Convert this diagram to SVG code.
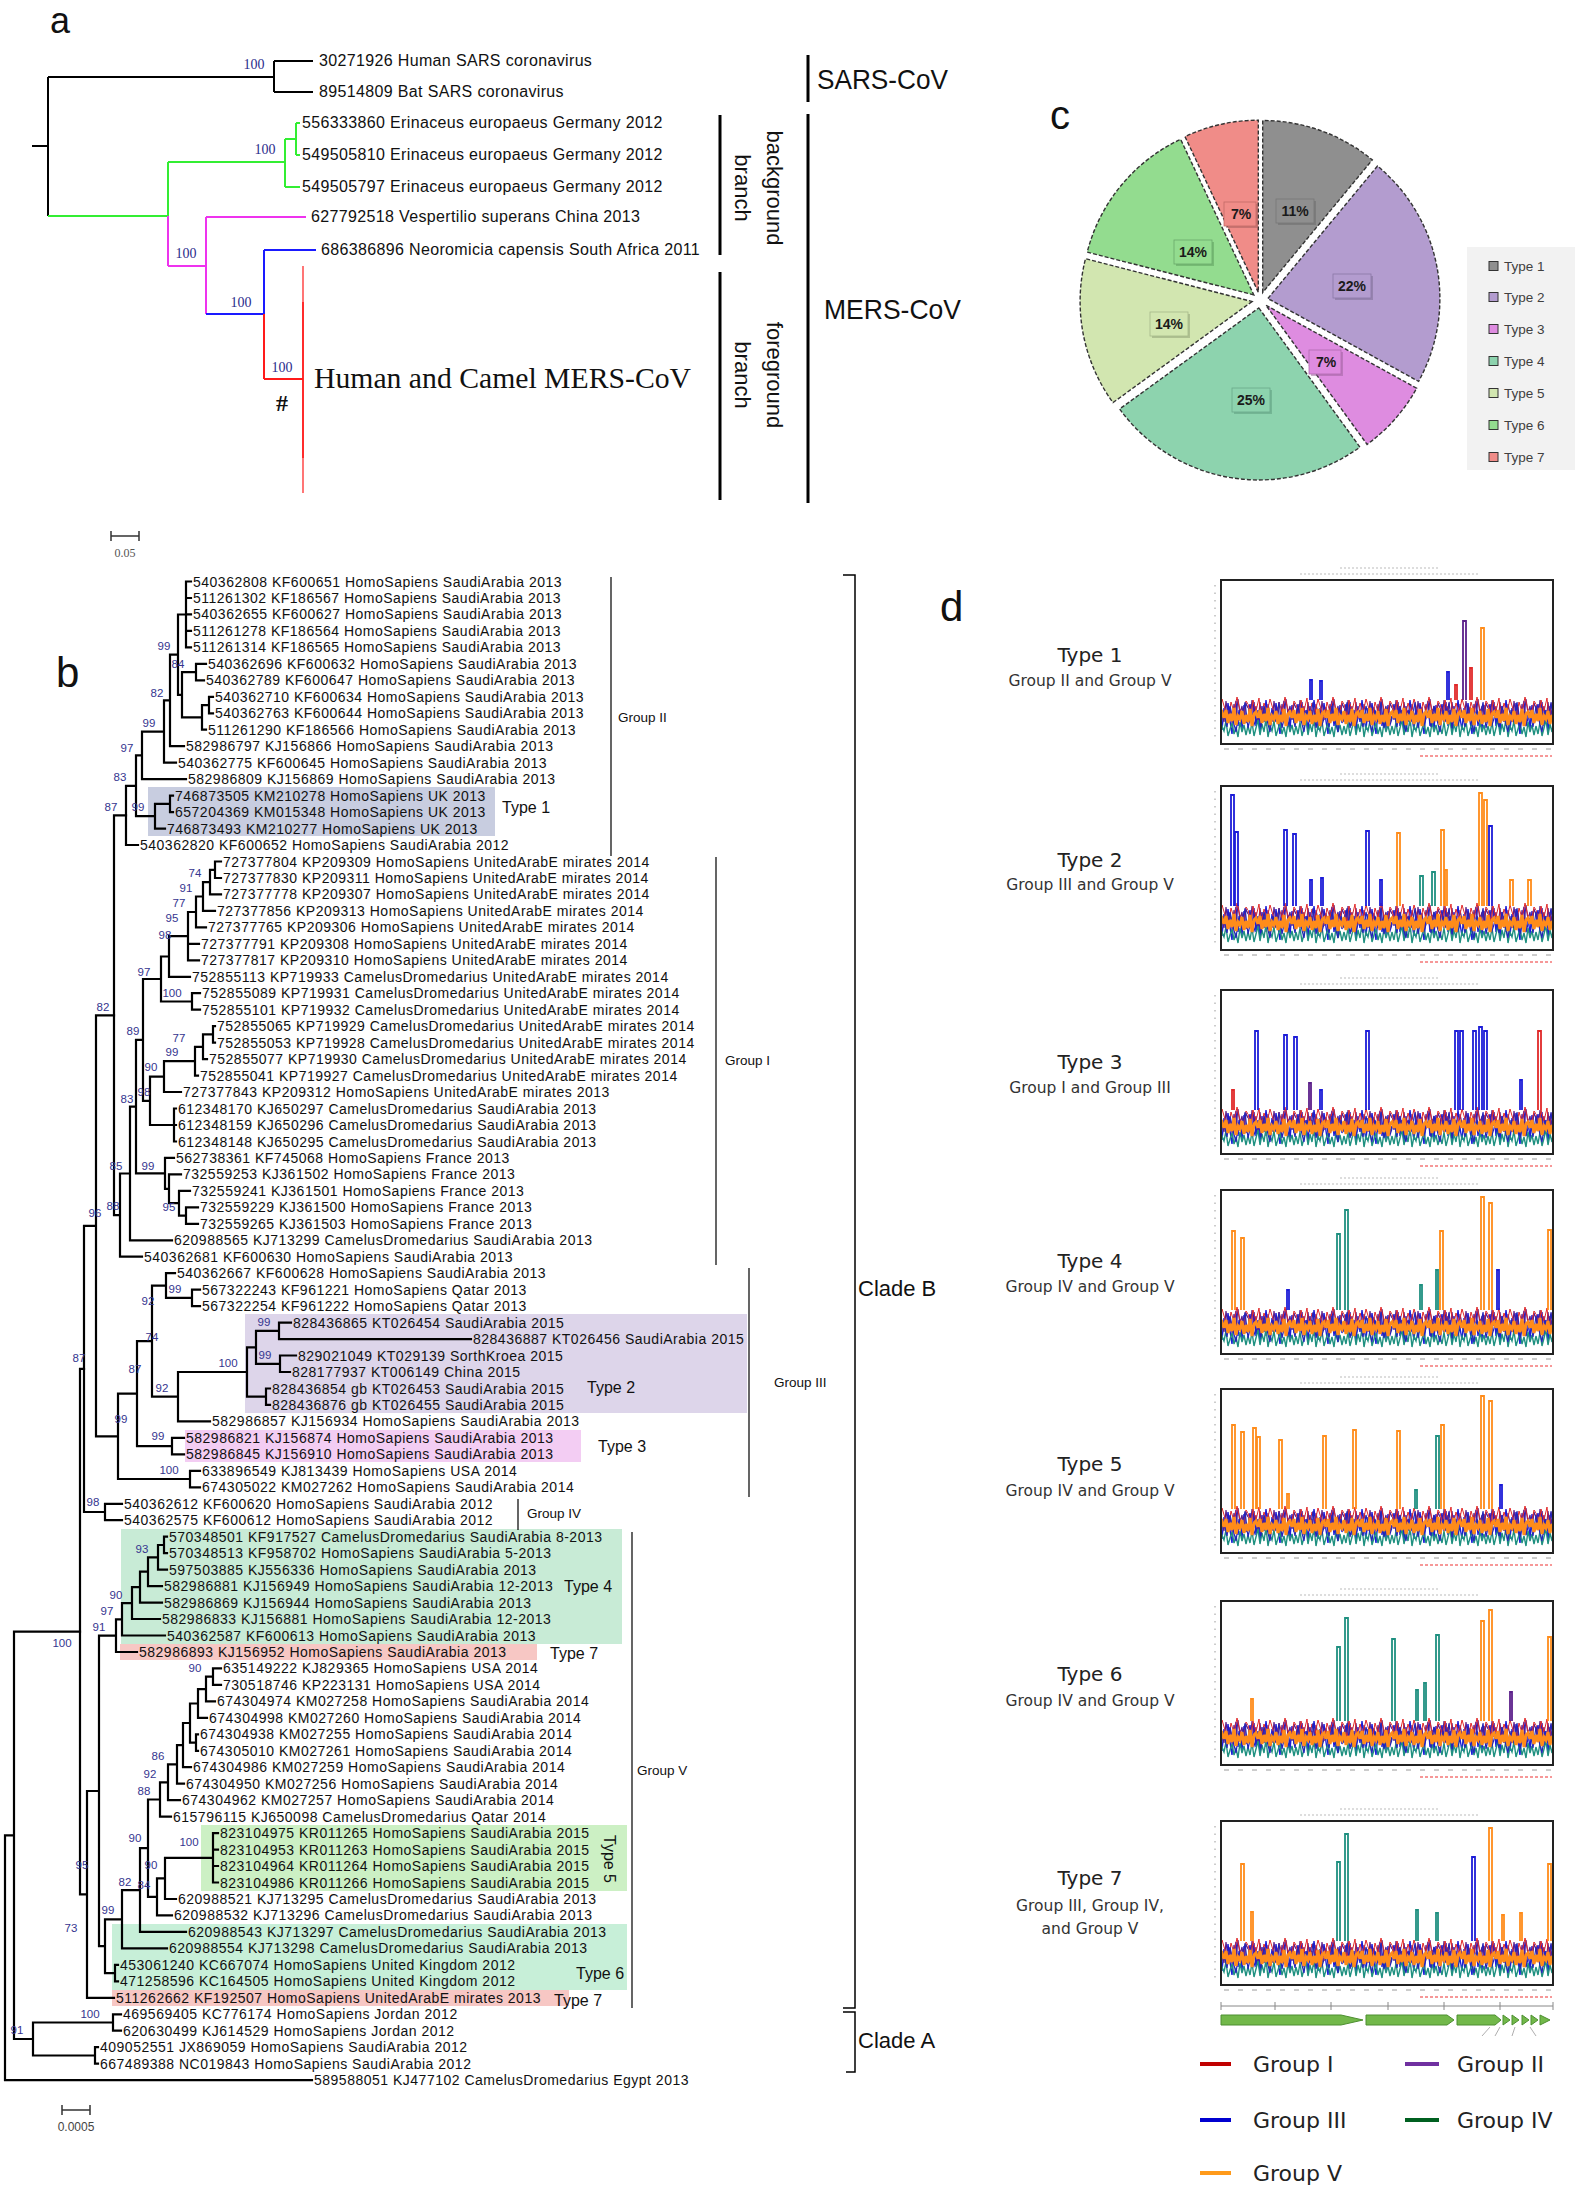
<svg xmlns="http://www.w3.org/2000/svg" xmlns:xlink="http://www.w3.org/1999/xlink" width="1575" height="2191" viewBox="0 0 1575 2191" font-family="'Liberation Sans', Arial, sans-serif">
<style>
.pl{font-size:38px;fill:#111}
.al{font-size:16px;letter-spacing:0.35px;fill:#111}
.abs{font-family:"Liberation Serif","Times New Roman",serif;font-size:14px;fill:#2b2b8c;text-anchor:middle}
.serif{font-family:"Liberation Serif","Times New Roman",serif}
.tl{font-size:14px;letter-spacing:0.5px;fill:#111}
.bs{font-size:11.5px;fill:#35358f;text-anchor:middle}
.br{fill:none;stroke:#000;stroke-width:2.2;stroke-linecap:square}
.thin{fill:none;stroke:#000;stroke-width:1.2}
.grp{font-size:13.5px;fill:#111}
.typ{font-size:16px;fill:#111}
.clade{font-size:22px;fill:#111}
.dt{font-family:"DejaVu Sans",Verdana,sans-serif;font-size:20px;fill:#222;text-anchor:middle}
.ds{font-family:"DejaVu Sans",Verdana,sans-serif;font-size:15.5px;fill:#333;text-anchor:middle}
.lg{font-family:"DejaVu Sans",Verdana,sans-serif;font-size:22px;fill:#222}
.box{fill:#fff;stroke:#222;stroke-width:2}
.sp{fill:none;stroke-width:1.8}
.ob{stroke:#ff8c1a}.bl{stroke:#1c1cd8}.tq{stroke:#1f9080}.pu{stroke:#5b1f8a}.rd{stroke:#e02828}
.ax{stroke:#9a9a9a;stroke-width:1;fill:none}
.slice{stroke:#333;stroke-width:1.4;stroke-dasharray:4 2}
.pct{font-size:14px;font-weight:bold;fill:#1a1a1a;text-anchor:middle}
.leg{font-size:13.5px;fill:#404040}
</style>
<defs>
<pattern id="noiseA" width="48" height="46" patternUnits="userSpaceOnUse">
<polyline points="0,24 2,12 4,30 6,10 8,34 10,18 12,40 14,14 16,30 18,8 20,26 22,38 24,16 26,32 28,11 30,29 32,42 34,20 36,9 38,34 40,17 42,37 44,13 46,31 48,24" fill="none" stroke="#1c1cd8" stroke-width="1.4"/>
<polyline points="0,16 2,28 4,8 6,24 8,14 10,32 12,10 14,26 16,18 18,34 20,12 22,22 24,30 26,9 28,24 30,15 32,31 34,12 36,26 38,7 40,22 42,14 44,28 46,11 48,16" fill="none" stroke="#5b1f8a" stroke-width="1.2"/>
<polyline points="0,12 3,24 5,8 8,19 11,6 13,26 16,11 19,21 22,7 25,17 28,28 31,10 34,20 37,5 40,18 43,25 46,9 48,12" fill="none" stroke="#e02828" stroke-width="1"/>
<polyline points="0,34 2,42 4,30 6,44 8,36 10,28 12,43 14,32 16,40 18,26 20,45 22,34 24,39 26,29 28,44 30,37 32,31 34,42 36,35 38,45 40,30 42,40 44,33 46,43 48,34" fill="none" stroke="#1f9080" stroke-width="1.4"/>
</pattern>
<pattern id="noiseB" width="34" height="46" patternUnits="userSpaceOnUse">
<polyline points="0,20 3,35 6,14 9,28 12,40 15,18 18,30 21,10 24,36 27,22 30,33 34,20" fill="none" stroke="#2424b8" stroke-width="1.2"/>
<polyline points="0,26 2,18 4,31 6,22 8,29 10,16 12,33 14,24 16,27 18,19 20,32 22,23 24,30 26,17 28,34 30,22 32,20 34,26" fill="none" stroke="#ff8c1a" stroke-width="3"/>
</pattern>
<g id="band"><rect x="1222" y="0" width="330" height="46" fill="url(#noiseA)"/><rect x="1222" y="0" width="330" height="46" fill="url(#noiseB)"/></g>
<g id="deco">
<path class="ax" d="M1215 5V160" stroke-dasharray="1.5 6"/>
<path class="ax" d="M1224 169H1552" stroke-dasharray="5 9"/>
<path d="M1340 -12H1440M1300 -6H1480" stroke="#bbb" stroke-width="1.2" stroke-dasharray="2 2" fill="none"/>
<path d="M1420 176H1552" stroke="#e33" stroke-width="1.2" stroke-dasharray="3 2" fill="none"/>
</g>
</defs>
<rect width="1575" height="2191" fill="#fff"/>

<!-- ========== PANEL A ========== -->
<g id="panel-a">
<text class="pl" x="50" y="33" style="font-size:36px">a</text>
<g id="a-connectors" fill="none" stroke-width="2">
<path d="M32 146H48M48 77V216M48 77H274M274 61V92M274 61H313M274 92H313" stroke="#000"/>
<path d="M48 216H168M168 162V216M168 162H285M285 139V187M285 139H296M296 123V155M296 123H300M296 155H300M285 187H300" stroke="#33ee33"/>
<path d="M168 216V266M168 266H206M206 217V314M206 217H306" stroke="#ee33ee"/>
<path d="M206 314H264M264 250V314M264 250H316" stroke="#1a1aff"/>
<path d="M264 314V379M264 379H303" stroke="#ff1a1a"/>
<path d="M303 266V493" stroke="#ff1a1a" stroke-width="1.2"/>
<path d="M303 302V458" stroke="#ff1a1a" stroke-width="1.6"/>
</g>
<text class="abs" x="254" y="69">100</text>
<text class="abs" x="265" y="154">100</text>
<text class="abs" x="186" y="258">100</text>
<text class="abs" x="241" y="307">100</text>
<text class="abs" x="282" y="372">100</text>
<g id="a-n1"><text class="al" x="319" y="66">30271926 Human SARS coronavirus</text></g>
<g id="a-n2"><text class="al" x="319" y="97">89514809 Bat SARS coronavirus</text></g>
<g id="a-n3"><text class="al" x="302" y="128">556333860 Erinaceus europaeus Germany 2012</text></g>
<g id="a-n4"><text class="al" x="302" y="160">549505810 Erinaceus europaeus Germany 2012</text></g>
<g id="a-n5"><text class="al" x="302" y="192">549505797 Erinaceus europaeus Germany 2012</text></g>
<g id="a-n6"><text class="al" x="311" y="222">627792518 Vespertilio superans China 2013</text></g>
<g id="a-n7"><text class="al" x="321" y="255">686386896 Neoromicia capensis South Africa 2011</text></g>
<g id="a-n8"><text class="serif" x="314" y="388" font-size="29" textLength="377" lengthAdjust="spacingAndGlyphs" fill="#111">Human and Camel MERS-CoV</text></g>
<text class="serif" x="282" y="411" text-anchor="middle" font-size="24" font-weight="bold" fill="#111">#</text>
<path d="M720 115V255M720 272V500M808 55V102M808 114V503" stroke="#000" stroke-width="3" fill="none"/>
<text transform="translate(767,188) rotate(90)" text-anchor="middle" font-size="22" fill="#111">background</text>
<text transform="translate(735,188) rotate(90)" text-anchor="middle" font-size="22" fill="#111">branch</text>
<text transform="translate(767,375) rotate(90)" text-anchor="middle" font-size="22" fill="#111">foreground</text>
<text transform="translate(735,375) rotate(90)" text-anchor="middle" font-size="22" fill="#111">branch</text>
<text x="817" y="89" font-size="28" textLength="131" lengthAdjust="spacingAndGlyphs" fill="#111">SARS-CoV</text>
<text x="824" y="319" font-size="28" textLength="137" lengthAdjust="spacingAndGlyphs" fill="#111">MERS-CoV</text>
<path d="M111 536H139M111 531V541M139 531V541" stroke="#333" stroke-width="1.5" fill="none"/>
<text class="serif" x="125" y="557" text-anchor="middle" font-size="12" fill="#555">0.05</text>
</g>

<!-- ========== PANEL C ========== -->
<g id="panel-c">
<text x="1050" y="129" font-size="40" fill="#111">c</text>
<g id="c-t1"><path class="slice" fill="#8f8f8f" d="M1262.7 292.5L1262.7 120.5A172 172 0 0 1 1372.3 159.9Z"/></g>
<g id="c-t2"><path class="slice" fill="#b39ccf" d="M1267.9 298.5L1377.5 166.0A172 172 0 0 1 1418.6 381.4Z"/></g>
<g id="c-t3"><path class="slice" fill="#de8ce0" d="M1266.0 305.3L1416.7 388.2A172 172 0 0 1 1367.1 444.4Z"/></g>
<g id="c-t4"><path class="slice" fill="#8dd3ae" d="M1258.8 307.9L1359.9 447.1A172 172 0 0 1 1119.6 409.0Z"/></g>
<g id="c-t5"><path class="slice" fill="#d2e6b0" d="M1252.1 301.5L1113.0 402.6A172 172 0 0 1 1085.5 258.7Z"/></g>
<g id="c-t6"><path class="slice" fill="#93dc8f" d="M1253.8 294.9L1087.2 252.1A172 172 0 0 1 1180.6 139.3Z"/></g>
<g id="c-t7"><path class="slice" fill="#f08c88" d="M1258.3 292.2L1185.0 136.6A172 172 0 0 1 1258.3 120.2Z"/></g>
<g id="c-labels">
<rect x="1278" y="201" width="38" height="24" fill="#6a6a6a" opacity="0.5"/><rect x="1276" y="199" width="38" height="24" fill="#8f8f8f" stroke="#777" stroke-width="0.8"/><text class="pct" x="1295" y="216">11%</text>
<rect x="1335" y="276" width="38" height="24" fill="#7a6a90" opacity="0.5"/><rect x="1333" y="274" width="38" height="24" fill="#b39ccf" stroke="#8a78a6" stroke-width="0.8"/><text class="pct" x="1352" y="291">22%</text>
<rect x="1311" y="352" width="32" height="24" fill="#9a609a" opacity="0.5"/><rect x="1309" y="350" width="32" height="24" fill="#de8ce0" stroke="#b06ab0" stroke-width="0.8"/><text class="pct" x="1326" y="367">7%</text>
<rect x="1234" y="390" width="38" height="24" fill="#5a9a7a" opacity="0.5"/><rect x="1232" y="388" width="38" height="24" fill="#8dd3ae" stroke="#6aa88a" stroke-width="0.8"/><text class="pct" x="1251" y="405">25%</text>
<rect x="1152" y="314" width="38" height="24" fill="#8a9a70" opacity="0.5"/><rect x="1150" y="312" width="38" height="24" fill="#d2e6b0" stroke="#a6b88a" stroke-width="0.8"/><text class="pct" x="1169" y="329">14%</text>
<rect x="1176" y="242" width="38" height="24" fill="#5a9a5a" opacity="0.5"/><rect x="1174" y="240" width="38" height="24" fill="#93dc8f" stroke="#6aa86a" stroke-width="0.8"/><text class="pct" x="1193" y="257">14%</text>
<rect x="1226" y="204" width="32" height="24" fill="#a05a5a" opacity="0.5"/><rect x="1224" y="202" width="32" height="24" fill="#f08c88" stroke="#c06a66" stroke-width="0.8"/><text class="pct" x="1241" y="219">7%</text>
</g>
<g id="c-legend">
<rect x="1467" y="247" width="108" height="223" fill="#f2f2f2"/>
<rect x="1489" y="261.5" width="9" height="9" fill="#8f8f8f" stroke="#333"/><text class="leg" x="1504" y="271">Type 1</text>
<rect x="1489" y="292.5" width="9" height="9" fill="#b39ccf" stroke="#333"/><text class="leg" x="1504" y="302">Type 2</text>
<rect x="1489" y="324.5" width="9" height="9" fill="#de8ce0" stroke="#333"/><text class="leg" x="1504" y="334">Type 3</text>
<rect x="1489" y="356.5" width="9" height="9" fill="#8dd3ae" stroke="#333"/><text class="leg" x="1504" y="366">Type 4</text>
<rect x="1489" y="388.5" width="9" height="9" fill="#d2e6b0" stroke="#333"/><text class="leg" x="1504" y="398">Type 5</text>
<rect x="1489" y="420.5" width="9" height="9" fill="#93dc8f" stroke="#333"/><text class="leg" x="1504" y="430">Type 6</text>
<rect x="1489" y="452.5" width="9" height="9" fill="#f08c88" stroke="#333"/><text class="leg" x="1504" y="462">Type 7</text>
</g>
</g>

<!-- ========== PANEL B ========== -->
<g id="panel-b">
<text class="pl" x="56" y="687" style="font-size:42px">b</text>
<g id="b-highlights">
<rect x="148" y="787" width="347" height="49" fill="#c8cde0"/>
<rect x="245" y="1314" width="502" height="99" fill="#ddd5ea"/>
<rect x="185" y="1430" width="396" height="32" fill="#f3cdf3"/>
<rect x="121" y="1529" width="501" height="115" fill="#c8ebd6"/>
<rect x="120" y="1644" width="417" height="16" fill="#f7c7c4"/>
<rect x="201" y="1825" width="426" height="66" fill="#ccf0c4"/>
<rect x="112" y="1924" width="515" height="66" fill="#c7efd8"/>
<rect x="112" y="1990" width="457" height="16" fill="#f7c7c4"/>
</g>
<g id="b-connectors">
<path class="br" d="M186 581.5V647.4M186 581.5H191M186 598H191M186 614.4H191M186 630.9H191M186 647.4H191M196 663.9V680.3M196 663.9H206M196 680.3H204M209 696.8V713.3M209 696.8H213M209 713.3H213M202 705.1V729.7M202 705.1H209M202 729.7H206M182 672.1V717.4M182 672.1H196M182 717.4H202M178 614.5V694.8M178 614.5H186M178 694.8H182M170 654.6V746.2M170 654.6H178M170 746.2H184M164 700.4V762.7M164 700.4H170M164 762.7H176M142 731.6V779.1M142 731.6H164M142 779.1H186M170 795.6V812.1M170 795.6H173M170 812.1H173M155 803.9V828.6M155 803.9H170M155 828.6H165M136 755.4V816.2M136 755.4H142M136 816.2H155M126 785.8V845M126 785.8H136M126 845H138"/>
<path class="br" d="M215 861.5V878M215 861.5H221M215 878H221M210 869.8V894.4M210 869.8H215M210 894.4H221M203 882.1V910.9M203 882.1H210M203 910.9H215M196 896.5V927.4M196 896.5H203M196 927.4H206M188 912V960.3M188 912H196M188 943.8H199M188 960.3H199M169 936.2V976.8M169 936.2H188M169 976.8H190M192 993.2V1009.7M192 993.2H200M192 1009.7H200M161 956.5V1001.5M161 956.5H169M161 1001.5H192M213 1026.2V1042.6M213 1026.2H215M213 1042.6H215M203 1034.4V1059.1M203 1034.4H213M203 1059.1H207M195 1046.8V1075.6M195 1046.8H203M195 1075.6H198M164 1061.2V1092M164 1061.2H195M164 1092H181M174 1108.5V1141.5M174 1108.5H176M174 1125H176M174 1141.5H176M150 1076.6V1125M150 1076.6H164M150 1125H174M143 979V1100.8M143 979H161M143 1100.8H150M186 1207.3V1223.8M186 1207.3H198M186 1223.8H198M179 1190.9V1215.6M179 1190.9H190M179 1215.6H186M169 1174.4V1203.2M169 1174.4H181M169 1203.2H179M165 1157.9V1188.8M165 1157.9H174M165 1188.8H169M136 1039.9V1173.4M136 1039.9H143M136 1173.4H165M130 1106.6V1240.3M130 1106.6H136M130 1240.3H172M120 1173.5V1256.7M120 1173.5H130M120 1256.7H142M114 815.4V1215.1M114 815.4H126M114 1215.1H120"/>
<path class="br" d="M192 1289.7V1306.1M192 1289.7H200M192 1306.1H200M166 1273.2V1297.9M166 1273.2H175M166 1297.9H192M279 1322.6V1339.1M279 1322.6H291M279 1339.1H471M280 1355.5V1372M280 1355.5H296M280 1372H290M256 1330.9V1363.8M256 1330.9H279M256 1363.8H280M266 1388.5V1404.9M266 1388.5H270M266 1404.9H270M247 1347.4V1396.7M247 1347.4H256M247 1396.7H266M178 1372V1421.4M178 1372H247M178 1421.4H210M152 1285.6V1396.7M152 1285.6H166M152 1396.7H178M172 1437.9V1454.3M172 1437.9H184M172 1454.3H184M137 1341.2V1446.1M137 1341.2H152M137 1446.1H172M190 1470.8V1487.3M190 1470.8H200M190 1487.3H200M118 1393.7V1479M118 1393.7H137M118 1479H190M96 1015.3V1436.4M96 1015.3H114M96 1436.4H118M105 1503.8V1520.2M105 1503.8H122M105 1520.2H122M84 1225.8V1512M84 1225.8H96M84 1512H105"/>
<path class="br" d="M164 1536.7V1553.2M164 1536.7H167M164 1553.2H167M158 1545V1569.6M158 1545H164M158 1569.6H167M148 1557.3V1586.1M148 1557.3H158M148 1586.1H162M140 1571.7V1602.6M140 1571.7H148M140 1602.6H162M132 1587.2V1619M132 1587.2H140M132 1619H160M122 1603.1V1635.5M122 1603.1H132M122 1635.5H165M116 1619.3V1652M116 1619.3H122M116 1652H137M213 1668.4V1684.9M213 1668.4H221M213 1684.9H221M206 1676.7V1701.4M206 1676.7H213M206 1701.4H215M198 1689.1V1717.8M198 1689.1H206M198 1717.8H207M196 1734.3V1750.8M196 1734.3H198M196 1750.8H198M190 1703.5V1742.6M190 1703.5H198M190 1742.6H196M183 1723V1767.2M183 1723H190M183 1767.2H191M177 1745.1V1783.7M177 1745.1H183M177 1783.7H184M168 1764.4V1800.2M168 1764.4H177M168 1800.2H180M160 1782.3V1816.6M160 1782.3H168M160 1816.6H171M213 1833.1V1882.5M213 1833.1H218M213 1849.6H218M213 1866H218M213 1882.5H218M165 1857.8V1899M165 1857.8H213M165 1899H176M157 1878.4V1915.4M157 1878.4H165M157 1915.4H172M148 1799.5V1896.9M148 1799.5H160M148 1896.9H157M140 1848.2V1931.9M140 1848.2H148M140 1931.9H186M122 1890.1V1948.4M122 1890.1H140M122 1948.4H167M115 1964.8V1981.3M115 1964.8H118M115 1981.3H118M105 1919.3V1973.1M105 1919.3H122M105 1973.1H115M99 1635.7V1946.2M99 1635.7H116M99 1946.2H105M87 1791V1997.8M87 1791H99M87 1997.8H114M80 1368.9V1894.4M80 1368.9H84M80 1894.4H87"/>
<path class="br" d="M113 2014.3V2030.7M113 2014.3H121M113 2030.7H121M95 2047.2V2063.7M95 2047.2H98M95 2063.7H98M33 2022.5V2055.5M33 2022.5H113M33 2055.5H95M14 1631.7V2039M14 1631.7H80M14 2039H33M5 1835.4V2080.1M5 1835.4H14M5 2080.1H312"/>
</g>
<g id="b-bootstrap">
<text class="bs" x="164" y="650">99</text><text class="bs" x="178" y="668">84</text><text class="bs" x="157" y="697">82</text><text class="bs" x="149" y="727">99</text><text class="bs" x="127" y="752">97</text><text class="bs" x="120" y="781">83</text><text class="bs" x="111" y="811">87</text><text class="bs" x="138" y="811">99</text>
<text class="bs" x="195" y="877">74</text><text class="bs" x="186" y="892">91</text><text class="bs" x="179" y="907">77</text><text class="bs" x="172" y="922">95</text><text class="bs" x="165" y="939">98</text><text class="bs" x="144" y="976">97</text><text class="bs" x="172" y="997">100</text><text class="bs" x="103" y="1011">82</text><text class="bs" x="133" y="1035">89</text><text class="bs" x="179" y="1042">77</text><text class="bs" x="172" y="1056">99</text><text class="bs" x="151" y="1071">90</text>
<text class="bs" x="127" y="1103">83</text><text class="bs" x="144" y="1096">98</text><text class="bs" x="116" y="1170">85</text><text class="bs" x="148" y="1170">99</text><text class="bs" x="169" y="1211">95</text><text class="bs" x="95" y="1217">96</text><text class="bs" x="113" y="1210">88</text><text class="bs" x="175" y="1293">99</text><text class="bs" x="148" y="1305">92</text><text class="bs" x="264" y="1326">99</text><text class="bs" x="152" y="1341">74</text>
<text class="bs" x="79" y="1362">87</text><text class="bs" x="228" y="1367">100</text><text class="bs" x="265" y="1359">99</text><text class="bs" x="135" y="1373">87</text><text class="bs" x="162" y="1392">92</text><text class="bs" x="121" y="1423">99</text><text class="bs" x="158" y="1440">99</text><text class="bs" x="169" y="1474">100</text><text class="bs" x="93" y="1506">98</text><text class="bs" x="142" y="1553">93</text><text class="bs" x="116" y="1599">90</text>
<text class="bs" x="107" y="1615">97</text><text class="bs" x="99" y="1631">91</text><text class="bs" x="62" y="1647">100</text><text class="bs" x="195" y="1672">90</text><text class="bs" x="158" y="1760">86</text><text class="bs" x="150" y="1778">92</text><text class="bs" x="144" y="1795">88</text><text class="bs" x="135" y="1842">90</text><text class="bs" x="189" y="1846">100</text><text class="bs" x="82" y="1869">95</text><text class="bs" x="151" y="1869">90</text>
<text class="bs" x="125" y="1886">82</text><text class="bs" x="144" y="1889">84</text><text class="bs" x="108" y="1914">99</text><text class="bs" x="71" y="1932">73</text><text class="bs" x="90" y="2018">100</text><text class="bs" x="17" y="2034">91</text>
</g>
<g id="b-tips">
<g id="b-t1"><text class="tl" x="193" y="586.5">540362808 KF600651 HomoSapiens SaudiArabia 2013</text></g>
<g id="b-t2"><text class="tl" x="193" y="603">511261302 KF186567 HomoSapiens SaudiArabia 2013</text></g>
<g id="b-t3"><text class="tl" x="193" y="619.4">540362655 KF600627 HomoSapiens SaudiArabia 2013</text></g>
<g id="b-t4"><text class="tl" x="193" y="635.9">511261278 KF186564 HomoSapiens SaudiArabia 2013</text></g>
<g id="b-t5"><text class="tl" x="193" y="652.4">511261314 KF186565 HomoSapiens SaudiArabia 2013</text></g>
<g id="b-t6"><text class="tl" x="208" y="668.9">540362696 KF600632 HomoSapiens SaudiArabia 2013</text></g>
<g id="b-t7"><text class="tl" x="206" y="685.3">540362789 KF600647 HomoSapiens SaudiArabia 2013</text></g>
<g id="b-t8"><text class="tl" x="215" y="701.8">540362710 KF600634 HomoSapiens SaudiArabia 2013</text></g>
<g id="b-t9"><text class="tl" x="215" y="718.3">540362763 KF600644 HomoSapiens SaudiArabia 2013</text></g>
<g id="b-t10"><text class="tl" x="208" y="734.7">511261290 KF186566 HomoSapiens SaudiArabia 2013</text></g>
<g id="b-t11"><text class="tl" x="186" y="751.2">582986797 KJ156866 HomoSapiens SaudiArabia 2013</text></g>
<g id="b-t12"><text class="tl" x="178" y="767.7">540362775 KF600645 HomoSapiens SaudiArabia 2013</text></g>
<g id="b-t13"><text class="tl" x="188" y="784.1">582986809 KJ156869 HomoSapiens SaudiArabia 2013</text></g>
<g id="b-t14"><text class="tl" x="175" y="800.6">746873505 KM210278 HomoSapiens UK 2013</text></g>
<g id="b-t15"><text class="tl" x="175" y="817.1">657204369 KM015348 HomoSapiens UK 2013</text></g>
<g id="b-t16"><text class="tl" x="167" y="833.6">746873493 KM210277 HomoSapiens UK 2013</text></g>
<g id="b-t17"><text class="tl" x="140" y="850">540362820 KF600652 HomoSapiens SaudiArabia 2012</text></g>
<g id="b-t18"><text class="tl" x="223" y="866.5">727377804 KP209309 HomoSapiens UnitedArabE mirates 2014</text></g>
<g id="b-t19"><text class="tl" x="223" y="883">727377830 KP209311 HomoSapiens UnitedArabE mirates 2014</text></g>
<g id="b-t20"><text class="tl" x="223" y="899.4">727377778 KP209307 HomoSapiens UnitedArabE mirates 2014</text></g>
<g id="b-t21"><text class="tl" x="217" y="915.9">727377856 KP209313 HomoSapiens UnitedArabE mirates 2014</text></g>
<g id="b-t22"><text class="tl" x="208" y="932.4">727377765 KP209306 HomoSapiens UnitedArabE mirates 2014</text></g>
<g id="b-t23"><text class="tl" x="201" y="948.8">727377791 KP209308 HomoSapiens UnitedArabE mirates 2014</text></g>
<g id="b-t24"><text class="tl" x="201" y="965.3">727377817 KP209310 HomoSapiens UnitedArabE mirates 2014</text></g>
<g id="b-t25"><text class="tl" x="192" y="981.8">752855113 KP719933 CamelusDromedarius UnitedArabE mirates 2014</text></g>
<g id="b-t26"><text class="tl" x="202" y="998.2">752855089 KP719931 CamelusDromedarius UnitedArabE mirates 2014</text></g>
<g id="b-t27"><text class="tl" x="202" y="1014.7">752855101 KP719932 CamelusDromedarius UnitedArabE mirates 2014</text></g>
<g id="b-t28"><text class="tl" x="217" y="1031.2">752855065 KP719929 CamelusDromedarius UnitedArabE mirates 2014</text></g>
<g id="b-t29"><text class="tl" x="217" y="1047.6">752855053 KP719928 CamelusDromedarius UnitedArabE mirates 2014</text></g>
<g id="b-t30"><text class="tl" x="209" y="1064.1">752855077 KP719930 CamelusDromedarius UnitedArabE mirates 2014</text></g>
<g id="b-t31"><text class="tl" x="200" y="1080.6">752855041 KP719927 CamelusDromedarius UnitedArabE mirates 2014</text></g>
<g id="b-t32"><text class="tl" x="183" y="1097">727377843 KP209312 HomoSapiens UnitedArabE mirates 2013</text></g>
<g id="b-t33"><text class="tl" x="178" y="1113.5">612348170 KJ650297 CamelusDromedarius SaudiArabia 2013</text></g>
<g id="b-t34"><text class="tl" x="178" y="1130">612348159 KJ650296 CamelusDromedarius SaudiArabia 2013</text></g>
<g id="b-t35"><text class="tl" x="178" y="1146.5">612348148 KJ650295 CamelusDromedarius SaudiArabia 2013</text></g>
<g id="b-t36"><text class="tl" x="176" y="1162.9">562738361 KF745068 HomoSapiens France 2013</text></g>
<g id="b-t37"><text class="tl" x="183" y="1179.4">732559253 KJ361502 HomoSapiens France 2013</text></g>
<g id="b-t38"><text class="tl" x="192" y="1195.9">732559241 KJ361501 HomoSapiens France 2013</text></g>
<g id="b-t39"><text class="tl" x="200" y="1212.3">732559229 KJ361500 HomoSapiens France 2013</text></g>
<g id="b-t40"><text class="tl" x="200" y="1228.8">732559265 KJ361503 HomoSapiens France 2013</text></g>
<g id="b-t41"><text class="tl" x="174" y="1245.3">620988565 KJ713299 CamelusDromedarius SaudiArabia 2013</text></g>
<g id="b-t42"><text class="tl" x="144" y="1261.7">540362681 KF600630 HomoSapiens SaudiArabia 2013</text></g>
<g id="b-t43"><text class="tl" x="177" y="1278.2">540362667 KF600628 HomoSapiens SaudiArabia 2013</text></g>
<g id="b-t44"><text class="tl" x="202" y="1294.7">567322243 KF961221 HomoSapiens Qatar 2013</text></g>
<g id="b-t45"><text class="tl" x="202" y="1311.1">567322254 KF961222 HomoSapiens Qatar 2013</text></g>
<g id="b-t46"><text class="tl" x="293" y="1327.6">828436865 KT026454 SaudiArabia 2015</text></g>
<g id="b-t47"><text class="tl" x="473" y="1344.1">828436887 KT026456 SaudiArabia 2015</text></g>
<g id="b-t48"><text class="tl" x="298" y="1360.5">829021049 KT029139 SorthKroea 2015</text></g>
<g id="b-t49"><text class="tl" x="292" y="1377">828177937 KT006149 China 2015</text></g>
<g id="b-t50"><text class="tl" x="272" y="1393.5">828436854 gb KT026453 SaudiArabia 2015</text></g>
<g id="b-t51"><text class="tl" x="272" y="1409.9">828436876 gb KT026455 SaudiArabia 2015</text></g>
<g id="b-t52"><text class="tl" x="212" y="1426.4">582986857 KJ156934 HomoSapiens SaudiArabia 2013</text></g>
<g id="b-t53"><text class="tl" x="186" y="1442.9" fill="#5e2a5e">582986821 KJ156874 HomoSapiens SaudiArabia 2013</text></g>
<g id="b-t54"><text class="tl" x="186" y="1459.3" fill="#5e2a5e">582986845 KJ156910 HomoSapiens SaudiArabia 2013</text></g>
<g id="b-t55"><text class="tl" x="202" y="1475.8">633896549 KJ813439 HomoSapiens USA 2014</text></g>
<g id="b-t56"><text class="tl" x="202" y="1492.3">674305022 KM027262 HomoSapiens SaudiArabia 2014</text></g>
<g id="b-t57"><text class="tl" x="124" y="1508.8">540362612 KF600620 HomoSapiens SaudiArabia 2012</text></g>
<g id="b-t58"><text class="tl" x="124" y="1525.2">540362575 KF600612 HomoSapiens SaudiArabia 2012</text></g>
<g id="b-t59"><text class="tl" x="169" y="1541.7">570348501 KF917527 CamelusDromedarius SaudiArabia 8-2013</text></g>
<g id="b-t60"><text class="tl" x="169" y="1558.2">570348513 KF958702 HomoSapiens SaudiArabia 5-2013</text></g>
<g id="b-t61"><text class="tl" x="169" y="1574.6">597503885 KJ556336 HomoSapiens SaudiArabia 2013</text></g>
<g id="b-t62"><text class="tl" x="164" y="1591.1">582986881 KJ156949 HomoSapiens SaudiArabia 12-2013</text></g>
<g id="b-t63"><text class="tl" x="164" y="1607.6">582986869 KJ156944 HomoSapiens SaudiArabia 2013</text></g>
<g id="b-t64"><text class="tl" x="162" y="1624">582986833 KJ156881 HomoSapiens SaudiArabia 12-2013</text></g>
<g id="b-t65"><text class="tl" x="167" y="1640.5">540362587 KF600613 HomoSapiens SaudiArabia 2013</text></g>
<g id="b-t66"><text class="tl" x="139" y="1657" fill="#7a1d1d">582986893 KJ156952 HomoSapiens SaudiArabia 2013</text></g>
<g id="b-t67"><text class="tl" x="223" y="1673.4">635149222 KJ829365 HomoSapiens USA 2014</text></g>
<g id="b-t68"><text class="tl" x="223" y="1689.9">730518746 KP223131 HomoSapiens USA 2014</text></g>
<g id="b-t69"><text class="tl" x="217" y="1706.4">674304974 KM027258 HomoSapiens SaudiArabia 2014</text></g>
<g id="b-t70"><text class="tl" x="209" y="1722.8">674304998 KM027260 HomoSapiens SaudiArabia 2014</text></g>
<g id="b-t71"><text class="tl" x="200" y="1739.3">674304938 KM027255 HomoSapiens SaudiArabia 2014</text></g>
<g id="b-t72"><text class="tl" x="200" y="1755.8">674305010 KM027261 HomoSapiens SaudiArabia 2014</text></g>
<g id="b-t73"><text class="tl" x="193" y="1772.2">674304986 KM027259 HomoSapiens SaudiArabia 2014</text></g>
<g id="b-t74"><text class="tl" x="186" y="1788.7">674304950 KM027256 HomoSapiens SaudiArabia 2014</text></g>
<g id="b-t75"><text class="tl" x="182" y="1805.2">674304962 KM027257 HomoSapiens SaudiArabia 2014</text></g>
<g id="b-t76"><text class="tl" x="173" y="1821.6">615796115 KJ650098 CamelusDromedarius Qatar 2014</text></g>
<g id="b-t77"><text class="tl" x="220" y="1838.1">823104975 KR011265 HomoSapiens SaudiArabia 2015</text></g>
<g id="b-t78"><text class="tl" x="220" y="1854.6">823104953 KR011263 HomoSapiens SaudiArabia 2015</text></g>
<g id="b-t79"><text class="tl" x="220" y="1871">823104964 KR011264 HomoSapiens SaudiArabia 2015</text></g>
<g id="b-t80"><text class="tl" x="220" y="1887.5">823104986 KR011266 HomoSapiens SaudiArabia 2015</text></g>
<g id="b-t81"><text class="tl" x="178" y="1904">620988521 KJ713295 CamelusDromedarius SaudiArabia 2013</text></g>
<g id="b-t82"><text class="tl" x="174" y="1920.4">620988532 KJ713296 CamelusDromedarius SaudiArabia 2013</text></g>
<g id="b-t83"><text class="tl" x="188" y="1936.9">620988543 KJ713297 CamelusDromedarius SaudiArabia 2013</text></g>
<g id="b-t84"><text class="tl" x="169" y="1953.4">620988554 KJ713298 CamelusDromedarius SaudiArabia 2013</text></g>
<g id="b-t85"><text class="tl" x="120" y="1969.8">453061240 KC667074 HomoSapiens United Kingdom 2012</text></g>
<g id="b-t86"><text class="tl" x="120" y="1986.3">471258596 KC164505 HomoSapiens United Kingdom 2012</text></g>
<g id="b-t87"><text class="tl" x="116" y="2002.8" fill="#7a1d1d">511262662 KF192507 HomoSapiens UnitedArabE mirates 2013</text></g>
<g id="b-t88"><text class="tl" x="123" y="2019.3">469569405 KC776174 HomoSapiens Jordan 2012</text></g>
<g id="b-t89"><text class="tl" x="123" y="2035.7">620630499 KJ614529 HomoSapiens Jordan 2012</text></g>
<g id="b-t90"><text class="tl" x="100" y="2052.2">409052551 JX869059 HomoSapiens SaudiArabia 2012</text></g>
<g id="b-t91"><text class="tl" x="100" y="2068.7">667489388 NC019843 HomoSapiens SaudiArabia 2012</text></g>
<g id="b-t92"><text class="tl" x="314" y="2085.1">589588051 KJ477102 CamelusDromedarius Egypt 2013</text></g>
</g>
<g id="b-types">
<text class="typ" x="502" y="813">Type 1</text>
<text class="typ" x="587" y="1393">Type 2</text>
<text class="typ" x="598" y="1452">Type 3</text>
<text class="typ" x="564" y="1592">Type 4</text>
<text class="typ" x="550" y="1659">Type 7</text>
<text class="typ" transform="translate(604,1859) rotate(90)" text-anchor="middle">Type 5</text>
<text class="typ" x="576" y="1979">Type 6</text>
<text class="typ" x="554" y="2006">Type 7</text>
</g>
<g id="b-groups">
<path class="thin" d="M611 577V856M716 857V1265M749 1268V1497M518 1499V1530M632 1532V2008"/>
<text class="grp" x="618" y="722">Group II</text>
<text class="grp" x="725" y="1065">Group I</text>
<text class="grp" x="774" y="1387">Group III</text>
<text class="grp" x="527" y="1518">Group IV</text>
<text class="grp" x="637" y="1775">Group V</text>
<path d="M843 575H855V2008H843M843 2012H855V2072H846" fill="none" stroke="#000" stroke-width="1.5"/>
<text class="clade" x="858" y="1296">Clade B</text>
<text class="clade" x="858" y="2048">Clade A</text>
</g>
<path d="M62 2110H90M62 2105V2115M90 2105V2115" stroke="#333" stroke-width="1.5" fill="none"/>
<text x="76" y="2131" text-anchor="middle" font-size="12" fill="#444">0.0005</text>
</g>

<!-- ========== PANEL D ========== -->
<g id="panel-d">
<text class="pl" x="940" y="621" style="font-size:42px">d</text>
<g id="d-type1">
<text class="dt" x="1090" y="662">Type 1</text><text class="ds" x="1090" y="686">Group II and Group V</text>
<rect class="box" x="1221" y="580" width="332" height="164"/>
<use href="#deco" y="580"/><use href="#band" y="692"/>
<path class="sp pu" d="M1463 700V621H1466V700" stroke-width="2.4"/>
<path class="sp ob" d="M1481 700V628H1484V700" stroke-width="2.4"/>
<path class="sp bl" d="M1310 700V680H1312V700M1320 700V681H1322V700M1447 700V672H1449V700"/>
<path class="sp rd" d="M1470 700V668H1472V700M1455 700V685H1457V700"/>
</g>
<g id="d-type2">
<text class="dt" x="1090" y="867">Type 2</text><text class="ds" x="1090" y="890">Group III and Group V</text>
<rect class="box" x="1221" y="786" width="332" height="164"/>
<use href="#deco" y="786"/><use href="#band" y="898"/>
<path class="sp bl" stroke-width="2.4" d="M1231 906V795H1234V906M1235 906V832H1238V906M1284 906V830H1287V906M1293 906V834H1296V906M1366 906V831H1369V906M1489 906V826H1492V906M1310 906V880H1312V906M1321 906V878H1323V906M1380 906V880H1382V906"/>
<path class="sp ob" stroke-width="2.4" d="M1397 906V833H1400V906M1441 906V830H1444V906M1479 906V793H1482V906M1484 906V800H1487V906M1510 906V880H1513V906M1528 906V880H1531V906M1445 906V870H1447V906"/>
<path class="sp tq" d="M1420 906V876H1423V906M1432 906V872H1435V906"/>
</g>
<g id="d-type3">
<text class="dt" x="1090" y="1069">Type 3</text><text class="ds" x="1090" y="1093">Group I and Group III</text>
<rect class="box" x="1221" y="990" width="332" height="164"/>
<use href="#deco" y="990"/><use href="#band" y="1102"/>
<path class="sp bl" stroke-width="2.4" d="M1255 1110V1031H1258V1110M1284 1110V1035H1287V1110M1294 1110V1037H1297V1110M1366 1110V1031H1369V1110M1455 1110V1031H1458V1110M1460 1110V1031H1463V1110M1473 1110V1031H1476V1110M1479 1110V1027H1482V1110M1484 1110V1031H1487V1110M1320 1110V1090H1322V1110M1520 1110V1080H1522V1110"/>
<path class="sp rd" stroke-width="2.4" d="M1538 1110V1031H1541V1110M1232 1110V1090H1234V1110"/>
<path class="sp pu" d="M1309 1110V1083H1311V1110"/>
</g>
<g id="d-type4">
<text class="dt" x="1090" y="1268">Type 4</text><text class="ds" x="1090" y="1292">Group IV and Group V</text>
<rect class="box" x="1221" y="1190" width="332" height="164"/>
<use href="#deco" y="1190"/><use href="#band" y="1302"/>
<path class="sp ob" stroke-width="2.4" d="M1232 1310V1231H1235V1310M1241 1310V1238H1244V1310M1440 1310V1231H1443V1310M1481 1310V1197H1484V1310M1489 1310V1203H1492V1310M1548 1310V1230H1551V1310"/>
<path class="sp tq" stroke-width="2.4" d="M1337 1310V1234H1340V1310M1345 1310V1210H1348V1310M1436 1310V1270H1438V1310M1420 1310V1285H1422V1310"/>
<path class="sp bl" d="M1287 1310V1290H1289V1310M1497 1310V1270H1499V1310"/>
</g>
<g id="d-type5">
<text class="dt" x="1090" y="1471">Type 5</text><text class="ds" x="1090" y="1496">Group IV and Group V</text>
<rect class="box" x="1221" y="1389" width="332" height="164"/>
<use href="#deco" y="1389"/><use href="#band" y="1501"/>
<path class="sp ob" stroke-width="2.4" d="M1232 1509V1425H1235V1509M1241 1509V1432H1244V1509M1253 1509V1428H1256V1509M1257 1509V1437H1260V1509M1279 1509V1440H1282V1509M1323 1509V1436H1326V1509M1353 1509V1430H1356V1509M1397 1509V1431H1400V1509M1441 1509V1425H1444V1509M1481 1509V1396H1484V1509M1489 1509V1401H1492V1509M1287 1509V1494H1289V1509"/>
<path class="sp tq" stroke-width="2.4" d="M1436 1509V1436H1439V1509M1415 1509V1490H1417V1509"/>
<path class="sp bl" d="M1500 1509V1485H1502V1509"/>
</g>
<g id="d-type6">
<text class="dt" x="1090" y="1681">Type 6</text><text class="ds" x="1090" y="1706">Group IV and Group V</text>
<rect class="box" x="1221" y="1601" width="332" height="164"/>
<use href="#deco" y="1601"/><use href="#band" y="1713"/>
<path class="sp tq" stroke-width="2.4" d="M1337 1721V1647H1340V1721M1345 1721V1618H1348V1721M1392 1721V1639H1395V1721M1436 1721V1635H1439V1721M1416 1721V1690H1418V1721M1424 1721V1683H1426V1721"/>
<path class="sp ob" stroke-width="2.4" d="M1251 1721V1699H1253V1721M1481 1721V1621H1484V1721M1489 1721V1610H1492V1721M1548 1721V1637H1551V1721"/>
<path class="sp pu" d="M1510 1721V1692H1512V1721"/>
</g>
<g id="d-type7">
<text class="dt" x="1090" y="1885">Type 7</text><text class="ds" x="1090" y="1911">Group III, Group IV,</text><text class="ds" x="1090" y="1934">and Group V</text>
<rect class="box" x="1221" y="1821" width="332" height="164"/>
<use href="#deco" y="1821"/><use href="#band" y="1933"/>
<path class="sp ob" stroke-width="2.4" d="M1241 1941V1864H1244V1941M1489 1941V1828H1492V1941M1548 1941V1864H1551V1941M1251 1941V1912H1253V1941M1502 1941V1915H1504V1941M1520 1941V1913H1522V1941"/>
<path class="sp tq" stroke-width="2.4" d="M1337 1941V1862H1340V1941M1345 1941V1834H1348V1941M1416 1941V1910H1418V1941M1436 1941V1913H1438V1941"/>
<path class="sp bl" stroke-width="2.4" d="M1472 1941V1857H1475V1941"/>
</g>
<g id="d-genome">
<path d="M1221 2006H1553M1221 2002V2010M1275 2002V2010M1331 2002V2010M1388 2002V2010M1444 2002V2010M1500 2002V2010M1553 2002V2010" stroke="#888" stroke-width="1" fill="none"/>
<polygon points="1221,2015 1341,2015 1363,2020 1341,2025 1221,2025" fill="#72b84a" stroke="#4d8f30"/>
<polygon points="1366,2015 1447,2015 1454,2020 1447,2025 1366,2025" fill="#72b84a" stroke="#4d8f30"/>
<polygon points="1457,2015 1495,2015 1501,2020 1495,2025 1457,2025" fill="#72b84a" stroke="#4d8f30"/>
<polygon points="1503,2015 1510,2020 1503,2025" fill="#72b84a" stroke="#4d8f30"/>
<polygon points="1512,2015 1519,2020 1512,2025" fill="#72b84a" stroke="#4d8f30"/>
<polygon points="1522,2015 1529,2020 1522,2025" fill="#72b84a" stroke="#4d8f30"/>
<polygon points="1531,2015 1538,2020 1531,2025" fill="#72b84a" stroke="#4d8f30"/>
<polygon points="1540,2015 1550,2020 1540,2025" fill="#72b84a" stroke="#4d8f30"/>
<path d="M1490 2027L1482 2036M1500 2027L1495 2036M1515 2027L1512 2036M1530 2027L1536 2036" stroke="#999" stroke-width="0.8" fill="none"/>
</g>
<g id="d-legend">
<path d="M1200 2064H1231" stroke="#c00000" stroke-width="4"/><text class="lg" x="1253" y="2072">Group I</text>
<path d="M1405 2064H1439" stroke="#7030a0" stroke-width="4"/><text class="lg" x="1457" y="2072">Group II</text>
<path d="M1200 2120H1231" stroke="#0000d0" stroke-width="4"/><text class="lg" x="1253" y="2128">Group III</text>
<path d="M1405 2120H1439" stroke="#006020" stroke-width="4"/><text class="lg" x="1457" y="2128">Group IV</text>
<path d="M1200 2173H1231" stroke="#ff9a1a" stroke-width="4"/><text class="lg" x="1253" y="2181">Group V</text>
</g>
</g>
</svg>
